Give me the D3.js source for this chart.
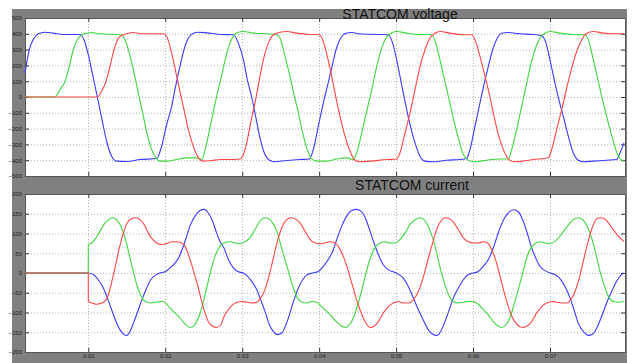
<!DOCTYPE html>
<html>
<head>
<meta charset="utf-8">
<script src="https://cdn.jsdelivr.net/npm/d3@7"></script>
<style>
  body { margin: 0; background: #fff; }
  svg { display: block; font-family: "Liberation Sans", Arial, sans-serif; }
</style>
</head>
<body>
<script>
// time in ms, value in V / A
const voltBlue = [[1.77,152],[2.33,299],[2.85,366],[3.5,400],[4.37,410],[5.45,404],[6.75,396],[8.92,396],[9.44,362],[10,267],[10.56,141],[11.17,0],[11.78,-143],[12.38,-280],[13.03,-375],[13.68,-406],[14.98,-408],[16.71,-396],[18.88,-389],[19.53,-312],[20.18,-175],[20.83,-59],[21.39,78],[21.91,194],[22.43,299],[23,373],[23.65,404],[24.3,410],[25.38,406],[27.11,396],[28.85,394],[29.5,341],[30.15,236],[30.67,109],[31.23,0],[31.79,-133],[32.31,-259],[32.96,-364],[33.61,-402],[34.26,-410],[35.78,-402],[37.51,-396],[38.73,-392],[39.24,-333],[39.89,-185],[40.54,-38],[41.06,67],[41.63,183],[42.19,299],[42.8,373],[43.49,404],[44.23,408],[45.31,400],[47.47,396],[48.99,394],[49.55,341],[50.16,215],[50.72,78],[51.29,-59],[51.81,-175],[52.46,-290],[53.11,-375],[53.76,-406],[54.84,-410],[56.57,-400],[58.3,-396],[59.17,-389],[59.6,-333],[60.25,-185],[60.9,-38],[61.42,78],[61.99,194],[62.55,299],[63.16,373],[63.72,404],[64.59,408],[66.1,400],[67.83,396],[68.92,387],[69.48,341],[70.09,215],[70.65,88],[71.21,-27],[71.73,-122],[72.38,-248],[73.03,-354],[73.68,-400],[74.33,-410],[75.63,-406],[77.36,-400],[78.66,-396],[79.1,-354],[79.62,-290]];

const voltGreen = [[1.77,0],[5.67,0],[6.32,46],[6.97,99],[7.53,194],[8.05,299],[8.57,362],[9.13,394],[9.78,404],[10.43,408],[11.52,400],[13.25,396],[14.33,394],[14.77,362],[15.33,278],[15.94,152],[16.5,25],[17.06,-101],[17.67,-238],[18.23,-333],[18.79,-385],[19.31,-406],[20.18,-406],[21.48,-396],[22.78,-385],[24.08,-385],[24.73,-396],[25.38,-290],[26.03,-143],[26.68,4],[27.2,110],[27.76,230],[28.33,330],[28.85,385],[29.5,410],[30.15,415],[31.45,404],[33.18,400],[34.48,394],[34.91,373],[35.56,257],[36.21,131],[36.73,15],[37.3,-101],[37.86,-227],[38.46,-333],[39.03,-392],[39.68,-406],[40.98,-406],[42.28,-392],[43.58,-385],[44.44,-396],[44.88,-354],[45.53,-227],[46.18,-91],[46.83,46],[47.39,173],[47.91,278],[48.56,362],[49.21,400],[50.07,415],[51.37,404],[53.11,396],[54.41,396],[54.84,383],[55.49,278],[56.14,141],[56.79,4],[57.44,-133],[58.09,-259],[58.74,-364],[59.39,-400],[60.25,-410],[61.77,-400],[63.5,-392],[64.59,-392],[65.02,-333],[65.67,-206],[66.32,-59],[66.88,67],[67.4,183],[68.05,299],[68.7,373],[69.35,404],[70,415],[71.3,404],[73.03,396],[74.55,394],[74.98,362],[75.63,236],[76.28,99],[76.93,-38],[77.58,-164],[78.23,-280],[78.88,-375],[79.62,-406]];

const voltRed = [[1.77,0],[11.17,0],[11.73,36],[12.3,99],[12.82,194],[13.34,299],[13.9,373],[14.55,394],[15.2,404],[15.85,408],[17.15,400],[19.75,400],[20.18,383],[20.83,278],[21.39,152],[21.91,36],[22.43,-80],[23,-206],[23.65,-312],[24.3,-385],[24.95,-406],[26.03,-402],[27.11,-396],[28.42,-396],[29.72,-392],[30.06,-375],[30.58,-290],[31.1,-164],[31.66,-38],[32.23,109],[32.75,236],[33.4,341],[34.05,394],[34.91,410],[35.78,415],[37.08,404],[38.81,396],[40.02,394],[40.54,352],[41.06,257],[41.63,131],[42.19,-6],[42.71,-122],[43.36,-248],[44.01,-343],[44.66,-400],[45.31,-410],[46.61,-406],[48.78,-396],[50.07,-392],[50.51,-354],[51.16,-227],[51.81,-101],[52.46,46],[53.11,194],[53.76,299],[54.41,373],[55.06,404],[55.71,415],[57.01,404],[58.74,394],[59.82,394],[60.25,362],[60.9,257],[61.55,131],[62.2,0],[62.73,-122],[63.29,-238],[63.94,-333],[64.59,-392],[65.24,-410],[66.54,-406],[67.83,-396],[69.78,-385],[70.22,-333],[70.87,-206],[71.52,-80],[72.17,57],[72.82,183],[73.47,288],[74.12,362],[74.77,404],[75.63,415],[76.93,404],[78.23,400],[79.62,400]];

const currBlue = [[1.77,0],[10,0],[10.65,-4],[11.3,-17],[11.95,-38],[12.47,-63],[13.03,-93],[13.6,-123],[14.12,-144],[14.64,-156],[14.98,-158],[15.42,-148],[15.94,-123],[16.5,-93],[17.06,-63],[17.58,-38],[18.1,-17],[18.66,-6],[19.31,0],[19.97,3],[20.62,13],[21.27,25],[21.83,42],[22.35,68],[22.78,93],[23.3,123],[23.87,144],[24.52,158],[25.04,161],[25.6,152],[26.16,131],[26.68,101],[27.11,80],[27.64,63],[28.2,34],[28.85,13],[29.5,3],[30.15,0],[30.58,-6],[31.23,-21],[31.88,-42],[32.4,-68],[32.96,-97],[33.53,-131],[34.05,-148],[34.57,-156],[35.13,-152],[35.69,-131],[36.21,-101],[36.73,-68],[37.3,-38],[37.86,-17],[38.46,-4],[39.15,0],[39.89,4],[40.54,17],[41.19,34],[41.84,59],[42.36,89],[42.92,118],[43.58,144],[44.23,158],[44.88,161],[45.53,155],[46.1,135],[46.61,106],[47.13,76],[47.69,47],[48.34,21],[48.99,8],[49.64,3],[50.29,-3],[50.94,-13],[51.59,-34],[52.24,-63],[52.89,-93],[53.63,-123],[54.19,-144],[54.84,-156],[55.27,-158],[55.79,-148],[56.35,-123],[56.91,-93],[57.44,-63],[58.09,-38],[58.74,-17],[59.39,-4],[60.04,0],[60.69,4],[61.34,17],[61.99,34],[62.55,59],[63.07,89],[63.59,118],[64.15,141],[64.8,156],[65.32,160],[65.88,155],[66.45,135],[66.97,106],[67.49,72],[68.05,42],[68.7,17],[69.35,6],[70,0],[70.65,-4],[71.3,-14],[71.95,-34],[72.6,-63],[73.12,-93],[73.68,-127],[74.33,-148],[74.98,-158],[75.54,-155],[76.06,-140],[76.71,-110],[77.36,-76],[78.01,-47],[78.66,-21],[79.31,-4],[79.62,0]];

const currGreen = [[1.77,0],[9.99,0],[10,72],[10.43,76],[11,89],[11.52,106],[12.04,123],[12.61,135],[13.25,140],[13.77,133],[14.33,114],[14.9,80],[15.42,38],[15.94,-4],[16.5,-42],[17.06,-65],[17.58,-74],[18.23,-76],[18.88,-74],[19.53,-72],[20.05,-76],[20.62,-89],[21.27,-101],[21.91,-114],[22.57,-129],[23.22,-138],[23.74,-133],[24.3,-114],[24.86,-80],[25.38,-38],[25.9,4],[26.46,42],[27.11,68],[27.64,76],[28.42,79],[29.07,76],[29.72,74],[30.36,79],[31.01,89],[31.66,110],[32.23,129],[32.83,140],[33.4,138],[33.96,127],[34.48,106],[35,72],[35.56,34],[36.13,-4],[36.65,-38],[37.17,-63],[37.73,-74],[38.38,-76],[39.03,-72],[39.68,-74],[40.33,-85],[40.98,-97],[41.63,-110],[42.28,-124],[42.93,-135],[43.49,-138],[44.01,-129],[44.53,-110],[45.09,-76],[45.66,-34],[46.26,13],[46.83,47],[47.39,68],[47.91,76],[48.56,79],[49.21,76],[49.86,76],[50.51,85],[51.16,101],[51.81,123],[52.46,135],[53.11,140],[53.63,135],[54.19,118],[54.75,89],[55.27,51],[55.79,8],[56.35,-30],[56.91,-59],[57.44,-72],[58.09,-76],[58.74,-74],[59.39,-72],[60.04,-72],[60.69,-79],[61.34,-93],[61.99,-106],[62.55,-121],[63.16,-133],[63.72,-138],[64.28,-131],[64.8,-114],[65.32,-80],[65.88,-42],[66.45,0],[66.97,38],[67.49,63],[68.05,74],[68.7,79],[69.35,76],[70,74],[70.65,80],[71.3,93],[71.95,110],[72.6,127],[73.25,138],[73.81,140],[74.33,133],[74.85,118],[75.41,89],[75.98,47],[76.5,4],[77.02,-30],[77.58,-59],[78.23,-72],[78.88,-74],[79.62,-72]];

const currRed = [[1.77,0],[9.99,0],[10,-72],[10.43,-76],[11.08,-79],[11.73,-76],[12.3,-68],[12.73,-47],[13.16,-13],[13.6,25],[14.03,63],[14.55,101],[15.07,127],[15.63,138],[16.19,140],[16.71,135],[17.24,123],[17.8,101],[18.36,85],[18.88,76],[19.53,72],[20.18,74],[20.83,79],[21.48,79],[22.13,76],[22.57,68],[23,47],[23.43,21],[23.87,-8],[24.3,-38],[24.73,-72],[25.16,-101],[25.59,-123],[26.16,-135],[26.68,-138],[27.24,-131],[27.64,-110],[28.2,-93],[28.76,-80],[29.37,-74],[29.93,-72],[30.58,-74],[31.23,-76],[31.88,-74],[32.4,-63],[32.96,-42],[33.53,-4],[34.05,38],[34.57,80],[35.13,114],[35.69,133],[36.3,140],[36.86,137],[37.51,127],[38.16,106],[38.81,85],[39.46,76],[40.11,74],[40.76,76],[41.41,79],[42.06,76],[42.62,63],[43.14,42],[43.66,13],[44.23,-25],[44.79,-63],[45.31,-93],[45.96,-123],[46.61,-138],[47.13,-135],[47.69,-123],[48.34,-101],[48.99,-85],[49.64,-76],[50.29,-72],[50.94,-76],[51.59,-76],[52.24,-68],[52.89,-47],[53.63,-4],[54.19,38],[54.75,76],[55.27,110],[55.79,131],[56.35,140],[56.91,138],[57.44,129],[58.09,110],[58.74,89],[59.39,79],[60.04,76],[60.69,76],[61.34,79],[61.99,74],[62.42,59],[62.98,30],[63.5,-8],[64.02,-47],[64.59,-85],[65.15,-114],[65.75,-131],[66.45,-138],[66.97,-135],[67.62,-123],[68.27,-101],[68.92,-85],[69.57,-76],[70.22,-72],[70.87,-74],[71.52,-76],[72.17,-76],[72.69,-68],[73.25,-47],[73.81,-13],[74.33,30],[74.85,72],[75.41,110],[75.98,135],[76.5,140],[77.02,138],[77.58,127],[78.23,110],[78.88,93],[79.62,80]];

const timeTicks = [10, 20, 30, 40, 50, 60, 70];
const timeLabels = ["0.01", "0.02", "0.03", "0.04", "0.05", "0.06", "0.07"];
const voltTicks = [500, 400, 300, 200, 100, 0, -100, -200, -300, -400, -500];
const currTicks = [200, 150, 100, 50, 0, -50, -100, -150, -200];

const W = 636, H = 363;
const svg = d3.select("body").append("svg")
    .attr("width", W)
    .attr("height", H);

// gray figure panel
svg.append("rect")
    .attr("x", 12).attr("y", 9)
    .attr("width", 615).attr("height", H - 9)
    .attr("fill", "#808080");

const x = d3.scaleLinear().domain([1.77, 79.75]).range([25, 625]);

const panels = [
  { title: "STATCOM voltage", tx: 400, ty: 19,
    y: d3.scaleLinear().domain([-500, 500]).range([176, 18]),
    ticks: voltTicks, series: [voltBlue, voltGreen, voltRed], xLabels: false },
  { title: "STATCOM current", tx: 412, ty: 190,
    y: d3.scaleLinear().domain([-200, 200]).range([352, 194]),
    ticks: currTicks, series: [currBlue, currGreen, currRed], xLabels: true }
];

const colors = ["#3a3aff", "#3ed83e", "#ff4646"];

panels.forEach(function(p) {
  const top = p.y.range()[1], bottom = p.y.range()[0];
  const g = svg.append("g");

  g.append("rect")
      .attr("x", x.range()[0]).attr("y", top)
      .attr("width", x.range()[1] - x.range()[0])
      .attr("height", bottom - top)
      .attr("fill", "#fff");

  // dotted grid
  g.selectAll(".hgrid")
    .data(p.ticks.slice(1, -1))
    .enter().append("line")
      .attr("x1", x.range()[0]).attr("x2", x.range()[1])
      .attr("y1", d => p.y(d) + 0.5).attr("y2", d => p.y(d) + 0.5)
      .attr("stroke", "#b5b5b5").attr("stroke-dasharray", "1,2");
  g.selectAll(".vgrid")
    .data(timeTicks)
    .enter().append("line")
      .attr("x1", d => Math.round(x(d)) + 0.5).attr("x2", d => Math.round(x(d)) + 0.5)
      .attr("y1", top).attr("y2", bottom)
      .attr("stroke", "#b5b5b5").attr("stroke-dasharray", "1,2");

  // axes with inward ticks
  const yl = g.append("g").attr("transform", `translate(${x.range()[0]},0)`)
      .call(d3.axisLeft(p.y).tickValues(p.ticks).tickSizeInner(-4).tickSizeOuter(0).tickPadding(3));
  const yr = g.append("g").attr("transform", `translate(${x.range()[1]},0)`)
      .call(d3.axisRight(p.y).tickValues(p.ticks).tickSizeInner(-4).tickSizeOuter(0).tickFormat(""));
  const xt = g.append("g").attr("transform", `translate(0,${top})`)
      .call(d3.axisTop(x).tickValues(timeTicks).tickSizeInner(-4).tickSizeOuter(0).tickFormat(""));
  const xb = g.append("g").attr("transform", `translate(0,${bottom})`)
      .call(d3.axisBottom(x).tickValues(timeTicks).tickSizeInner(-4).tickSizeOuter(0).tickPadding(2)
        .tickFormat((d, i) => p.xLabels ? timeLabels[i] : ""));

  [yl, yr, xt, xb].forEach(function(a) {
    a.select(".domain").attr("stroke", "#555");
    a.selectAll(".tick line").attr("stroke", "#333");
    a.selectAll("text").attr("font-size", 6).attr("fill", "#222")
      .attr("font-family", "'Liberation Sans', Arial, sans-serif");
  });

  const line = d3.line()
      .x(d => x(d[0]))
      .y(d => p.y(d[1]))
      .curve(d3.curveMonotoneX);

  p.series.forEach(function(s, i) {
    g.append("path")
        .datum(s)
        .attr("fill", "none")
        .attr("stroke", colors[i])
        .attr("stroke-width", 1.1)
        .attr("d", line);
  });

  svg.append("text")
      .attr("x", p.tx).attr("y", p.ty)
      .attr("text-anchor", "middle")
      .attr("font-size", 14)
      .attr("fill", "#111")
      .text(p.title);
});
</script>
</body>
</html>
